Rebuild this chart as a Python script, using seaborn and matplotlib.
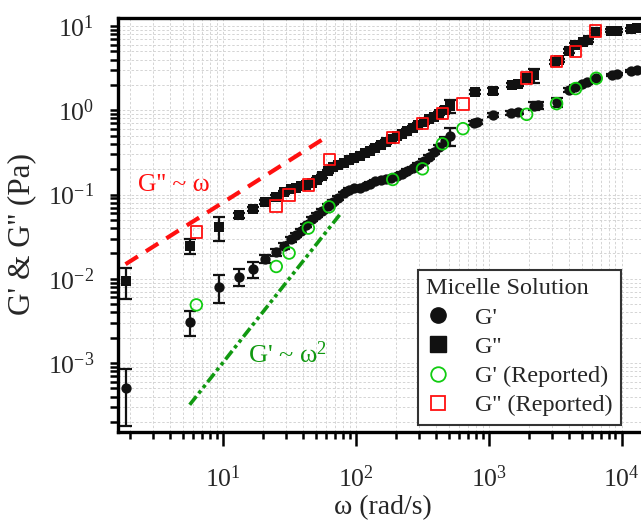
import numpy as np
import pandas as pd
import matplotlib
matplotlib.use('Agg')
import matplotlib.pyplot as plt
from matplotlib.lines import Line2D
from matplotlib.ticker import LogLocator, NullFormatter
import seaborn as sns

sns.set_theme(style='ticks')
plt.rcParams['font.family'] = ['Liberation Serif', 'DejaVu Serif']
plt.rcParams['mathtext.fontset'] = 'custom'
plt.rcParams['mathtext.rm'] = 'Liberation Serif'
plt.rcParams['mathtext.it'] = 'Liberation Serif:italic'
plt.rcParams['mathtext.default'] = 'regular'
plt.rcParams['xtick.labelsize'] = 18.5
plt.rcParams['ytick.labelsize'] = 18.5

# measured data (micelle solution), sparse low-frequency part + dense band + high-frequency part
omega = [1.89, 5.68, 9.44, 13.3, 17.0, 20.8, 25.0, 28.9,
         32.4, 35.5, 38.9, 42.7, 46.8, 51.3, 56.2, 61.7, 67.6, 74.1, 81.3, 89.1,
         97.7, 107, 117, 129, 141, 155, 170, 186, 204, 224, 245, 269, 295, 324,
         355, 389, 427, 468, 513]
g1 = [5.1e-4, 0.0031, 0.0081, 0.0106, 0.013, 0.0173, 0.0208, 0.0243,
      0.0297, 0.033, 0.037, 0.043, 0.051, 0.057, 0.064, 0.073, 0.082, 0.092, 0.103, 0.113,
      0.118, 0.121, 0.125, 0.135, 0.143, 0.148, 0.152, 0.157, 0.165, 0.175,
      0.19, 0.205, 0.225, 0.25, 0.28, 0.32, 0.37, 0.43, 0.50]
g1_err = [3.3e-4, 0.001, 0.003, 0.0024, 0.0027, 0.002, 0.002, 0.002,
          0.002, 0.002, 0.002, 0.002, 0.003, 0.003, 0.003, 0.004, 0.004, 0.005, 0.005, 0.005,
          0.005, 0.005, 0.006, 0.006, 0.006, 0.007, 0.007, 0.007, 0.008, 0.008,
          0.009, 0.01, 0.01, 0.012, 0.013, 0.015, 0.02, 0.05, 0.12]
g2 = [0.0095, 0.0247, 0.041, 0.0567, 0.068, 0.082, 0.094, 0.106,
      0.115, 0.12, 0.125, 0.13, 0.138, 0.15, 0.165, 0.19, 0.21, 0.225, 0.24, 0.255,
      0.27, 0.29, 0.31, 0.33, 0.36, 0.39, 0.42, 0.455, 0.49, 0.53,
      0.57, 0.62, 0.67, 0.72, 0.78, 0.84, 0.91, 1.0, 1.12]
g2_err = [0.0038, 0.005, 0.0127, 0.004, 0.004, 0.004, 0.004, 0.004,
          0.005, 0.005, 0.005, 0.006, 0.006, 0.007, 0.007, 0.008, 0.009, 0.01, 0.01, 0.011,
          0.011, 0.012, 0.013, 0.014, 0.015, 0.016, 0.018, 0.02, 0.02, 0.022,
          0.024, 0.026, 0.028, 0.03, 0.033, 0.036, 0.04, 0.08, 0.2]

omega_hi1 = [770, 820, 1083, 1480, 1650, 2200, 2350, 3245, 4000, 4500, 5000, 5500,
             6400, 8400, 9200, 11800, 13000]
g1_hi = [0.70, 0.72, 0.88, 0.92, 0.95, 1.12, 1.15, 1.24, 1.75, 1.9, 2.05, 2.15,
         2.41, 2.65, 2.72, 2.9, 3.0]
g1_hi_err = [0.04, 0.04, 0.04, 0.05, 0.05, 0.12, 0.12, 0.15, 0.08, 0.08, 0.08, 0.08,
             0.08, 0.08, 0.08, 0.08, 0.08]
omega_hi2 = [785, 1083, 1500, 1650, 1900, 2200, 3150, 3400, 4000, 4500, 5100, 5600,
             6400, 8300, 9200, 11800, 13000]
g2_hi = [1.65, 1.70, 2.0, 2.05, 2.4, 2.6, 3.7, 3.9, 5.1, 6.0, 6.4, 6.8,
         8.6, 8.8, 8.8, 9.1, 9.4]
g2_hi_err = [0.08, 0.12, 0.1, 0.1, 0.1, 0.5, 0.2, 0.2, 0.3, 0.3, 0.3, 0.3,
             0.3, 0.3, 0.3, 0.3, 0.3]

# reported values
omega_rep1 = [6.34, 25.3, 31.6, 44.1, 63.1, 190, 318, 449, 641, 1932, 3245, 4510, 6450]
g1_rep = [0.0049, 0.014, 0.0202, 0.040, 0.0714, 0.151, 0.202, 0.40, 0.605, 0.895, 1.20, 1.81, 2.40]
omega_rep2 = [6.34, 25.3, 31.6, 44.1, 63.4, 190, 318, 449, 641, 1923, 3245, 4510, 6380]
g2_rep = [0.036, 0.0726, 0.098, 0.13, 0.261, 0.473, 0.695, 0.914, 1.18, 2.40, 3.80, 5.0, 8.8]

# scaling guides
guide1_w = [1.86, 59.4]
guide1_g = [0.0149, 0.475]
guide2_w = [5.65, 75.9]
guide2_g = [3.2e-4, 0.0576]

BLACK = '#111111'
GREEN = '#11cc11'
RED = '#ff1010'

fig = plt.figure(figsize=(6.41, 5.22), dpi=100)
ax = fig.add_axes([118 / 641, 1 - 432 / 522, 530 / 641, 414 / 522])
ax.set_xscale('log')
ax.set_yscale('log')

ax.errorbar(omega + omega_hi1, g1 + g1_hi, yerr=g1_err + g1_hi_err, fmt='none',
            ecolor=BLACK, elinewidth=1.6, capsize=4.3, capthick=1.6, zorder=3)
ax.errorbar(omega + omega_hi2, g2 + g2_hi, yerr=g2_err + g2_hi_err, fmt='none',
            ecolor=BLACK, elinewidth=1.6, capsize=4.3, capthick=1.6, zorder=3)
meas1 = pd.DataFrame({'omega': omega + omega_hi1, 'g': g1 + g1_hi})
meas2 = pd.DataFrame({'omega': omega + omega_hi2, 'g': g2 + g2_hi})
sns.scatterplot(data=meas1, x='omega', y='g', marker='o', s=55, color=BLACK,
                edgecolor=BLACK, linewidth=0, ax=ax, zorder=4, legend=False)
sns.scatterplot(data=meas2, x='omega', y='g', marker='s', s=55, color=BLACK,
                edgecolor=BLACK, linewidth=0, ax=ax, zorder=4, legend=False)

rep1 = pd.DataFrame({'omega': omega_rep1, 'g': g1_rep})
rep2 = pd.DataFrame({'omega': omega_rep2, 'g': g2_rep})
sns.scatterplot(data=rep1, x='omega', y='g', marker='o', s=70, facecolor='none',
                edgecolor=GREEN, linewidth=1.3, ax=ax, zorder=5, legend=False)
sns.scatterplot(data=rep2, x='omega', y='g', marker='s', s=70, facecolor='none',
                edgecolor=RED, linewidth=1.3, ax=ax, zorder=5, legend=False)

ax.plot(guide1_w, guide1_g, color=RED, lw=3, ls=(0, (3.5, 2.3)), zorder=2)
ax.plot(guide2_w, guide2_g, color='#119911', lw=2.6, ls=(0, (3, 1, 1, 1, 1, 1)), zorder=2)
ax.text(2.3, 0.13, "G'' ~ ω", color=RED, fontsize=18.5, va='center', ha='left')
ax.text(15.4, 1.25e-3, "G' ~ ω$^2$", color='#119911', fontsize=19, va='center', ha='left')

ax.set_xlim(1.633, 15800)
ax.set_ylim(1.52e-4, 12.45)
ax.xaxis.set_major_locator(LogLocator(base=10, numticks=20))
ax.xaxis.set_minor_locator(LogLocator(base=10, subs=np.arange(2, 10), numticks=20))
ax.yaxis.set_major_locator(LogLocator(base=10, numticks=20))
ax.yaxis.set_minor_locator(LogLocator(base=10, subs=np.arange(2, 10), numticks=20))
ax.xaxis.set_minor_formatter(NullFormatter())
ax.yaxis.set_minor_formatter(NullFormatter())

ax.grid(which='both', color='#d4d4d4', ls=(0, (2.5, 2)), lw=0.7)
ax.set_axisbelow(True)
ax.tick_params(which='both', direction='out', width=1.8, color='black',
               top=False, right=False)
ax.tick_params(axis='y', which='both', length=6, pad=11)
ax.tick_params(axis='x', which='major', length=10, pad=14)
ax.tick_params(axis='x', which='minor', length=5)
for s in ax.spines.values():
    s.set_linewidth(2.4)
    s.set_color('black')

ax.set_xlabel('ω (rad/s)', fontsize=20)
ax.set_ylabel("G' & G'' (Pa)", fontsize=22.5)
ax.xaxis.set_label_coords(0.5, (432 - 495) / 414)
ax.yaxis.set_label_coords((36 - 118) / 530, (432 - 234) / 414)

handles = [
    Line2D([], [], ls='none', marker='o', ms=11, color=BLACK),
    Line2D([], [], ls='none', marker='s', ms=11, color=BLACK),
    Line2D([], [], ls='none', marker='o', ms=10.5, mfc='none', mec=GREEN, mew=1.3),
    Line2D([], [], ls='none', marker='s', ms=10.5, mfc='none', mec=RED, mew=1.3),
]
labels = ["G'", "G''", "G' (Reported)", "G'' (Reported)"]
leg = ax.legend(handles, labels, title='Micelle Solution', loc='lower right',
                bbox_to_anchor=(0.949, 0.017), borderaxespad=0, fontsize=17.5,
                title_fontsize=17.5, frameon=True, fancybox=False, framealpha=1,
                edgecolor='#333333', handlelength=1.0, handletextpad=1.0,
                labelspacing=0.3, borderpad=0.35, alignment='left')
leg.get_frame().set_linewidth(1.5)

fig.savefig('out.png', dpi=100)
